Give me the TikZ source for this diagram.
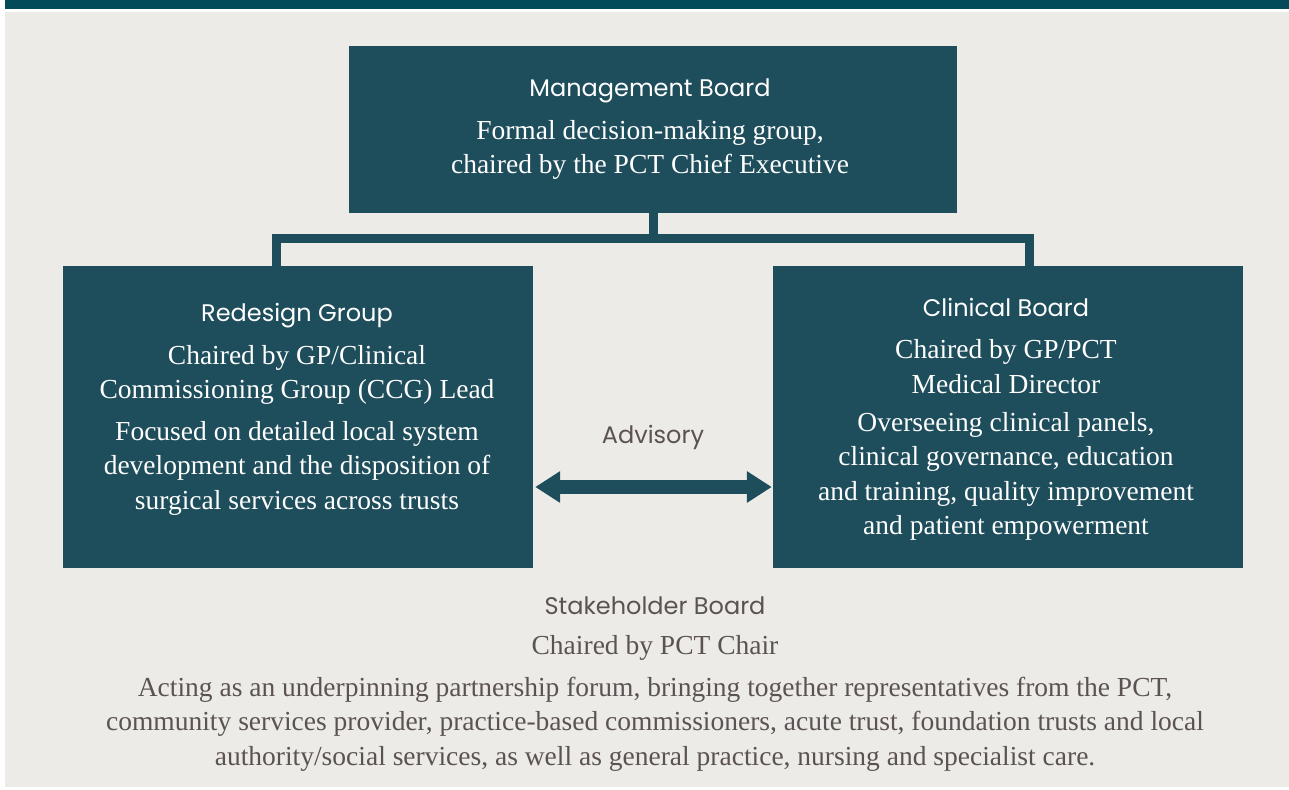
\documentclass[tikz,border=0pt]{standalone}
\usepackage{fontspec}
\setmainfont{Liberation Serif}
\newfontfamily\headfont{Poppins}
\usetikzlibrary{arrows.meta}

\definecolor{boxteal}{HTML}{1E4D5C}
\definecolor{barteal}{HTML}{044B5A}
\definecolor{paper}{HTML}{EDEBE7}
\definecolor{inkgrey}{HTML}{5B5353}

\tikzset{
  board/.style={fill=boxteal, draw=none, inner sep=0pt},
  headtext/.style={font=\headfont\fontsize{24}{28}\selectfont, text=#1, align=center},
  bodytext/.style={font=\fontsize{27.5}{34.5}\selectfont, text=#1, align=center},
  link/.style={draw=boxteal, line width=9pt, line join=miter},
  twoway/.style={draw=boxteal, line width=14pt, {Triangle[length=25pt,width=30pt]}-{Triangle[length=25pt,width=30pt]}}
}

\begin{document}
\begin{tikzpicture}[x=1pt, y=-1pt]
% Page and background
\useasboundingbox (0,0) rectangle (1289,789);
\fill[white] (0,0) rectangle (1289,789);
\fill[barteal] (5,0) rectangle (1289,9);
\fill[paper] (5,12) rectangle (1289,787);

% The three boards
\node[board, minimum width=608pt, minimum height=167pt] (mgmt) at (653,129.5) {};
\node[board, minimum width=470pt, minimum height=302pt] (redesign) at (298,417) {};
\node[board, minimum width=470pt, minimum height=302pt] (clinical) at (1008,417) {};

% Connector from the management board
\coordinate (bar) at (653,238);
\coordinate (lfoot) at (276,266);
\coordinate (rfoot) at (1029,266);
\draw[link] (mgmt.south) -- (bar);
\draw[link] (lfoot) -- (lfoot |- bar) -- (rfoot |- bar) -- (rfoot);

% Advisory arrow
\coordinate (arr) at (653,487);
\draw[twoway] ([xshift=2pt]redesign.east |- arr) -- ([xshift=-1pt]clinical.west |- arr);
\node[headtext=inkgrey] (advisory) at (653,437) {Advisory};

% Management board text
\node[headtext=white] (mgmttitle) at (650,91) {Management Board};
\node[bodytext=white] (mgmtbody) at (650,150) {Formal decision-making group,\\chaired by the PCT Chief Executive};

% Redesign group text
\node[headtext=white] (redtitle) at (297,316) {Redesign Group};
\node[bodytext=white] (redchair) at (297,375) {Chaired by GP/Clinical\\Commissioning Group (CCG) Lead};
\node[bodytext=white] (redfocus) at (297,468) {Focused on detailed local system\\development and the disposition of\\surgical services across trusts};

% Clinical board text
\node[headtext=white] (clintitle) at (1006,307) {Clinical Board};
\node[bodytext=white] (clinchair) at (1006,366.5) {Chaired by GP/PCT\\Medical Director};
\node[bodytext=white] (clinwork) at (1006,476.5) {Overseeing clinical panels,\\clinical governance, education\\and training, quality improvement\\and patient empowerment};

% Stakeholder board text
\node[headtext=inkgrey] (staketitle) at (655,606) {Stakeholder Board};
\node[bodytext=inkgrey] (stakechair) at (655,648) {Chaired by PCT Chair};
\node[bodytext=inkgrey] (stakebody) at (655,724) {Acting as an underpinning partnership forum, bringing together representatives from the PCT,\\community services provider, practice-based commissioners, acute trust, foundation trusts and local\\authority/social services, as well as general practice, nursing and specialist care.};
\end{tikzpicture}
\end{document}
